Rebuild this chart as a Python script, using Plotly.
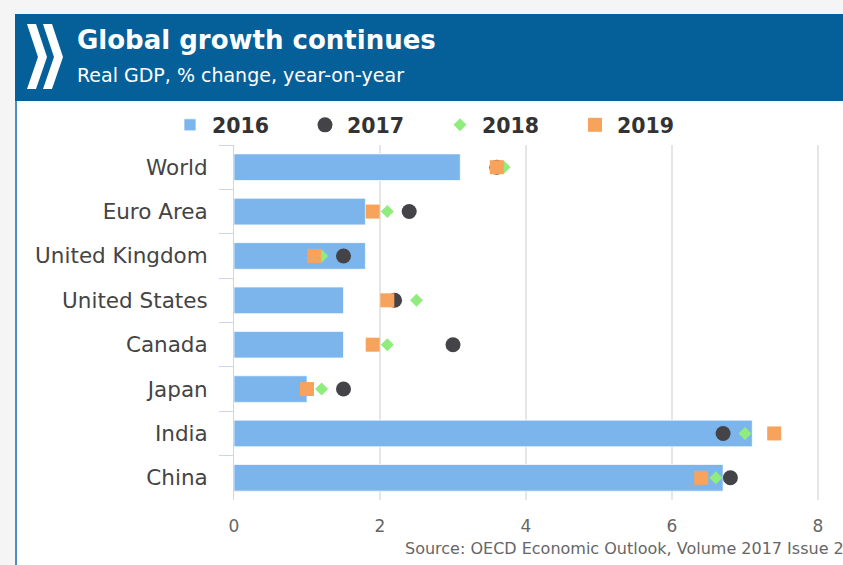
import plotly.graph_objects as go

# Real GDP growth, % change year-on-year
countries = ["World", "Euro Area", "United Kingdom", "United States",
             "Canada", "Japan", "India", "China"]
gdp_2016 = [3.1, 1.8, 1.8, 1.5, 1.5, 1.0, 7.1, 6.7]
gdp_2017 = [3.6, 2.4, 1.5, 2.2, 3.0, 1.5, 6.7, 6.8]
gdp_2018 = [3.7, 2.1, 1.2, 2.5, 2.1, 1.2, 7.0, 6.6]
gdp_2019 = [3.6, 1.9, 1.1, 2.1, 1.9, 1.0, 7.4, 6.4]
x_ticks = [0, 2, 4, 6, 8]

W, H = 843, 565
ML, MR, MT, MB = 234, 0, 145, 65
PW, PH = W - ML - MR, H - MT - MB
UNIT = 73.0  # pixels per percentage point


def px(x):
    return (x - ML) / PW


def py(y):
    return (H - MB - y) / PH


FONT = "DejaVu Sans"

fig = go.Figure()
fig.add_trace(go.Bar(
    y=countries, x=gdp_2016, orientation="h", name="2016",
    marker=dict(color="#7cb5ec", line=dict(color="rgba(255,255,255,0.7)", width=1)),
    width=0.6,
))
fig.add_trace(go.Scatter(
    y=countries, x=gdp_2017, mode="markers", name="2017",
    marker=dict(symbol="circle", size=15, color="#434348"),
))
fig.add_trace(go.Scatter(
    y=countries, x=gdp_2018, mode="markers", name="2018",
    marker=dict(symbol="diamond", size=10, color="#90ed7d"),
))
fig.add_trace(go.Scatter(
    y=countries, x=gdp_2019, mode="markers", name="2019",
    marker=dict(symbol="square", size=14, color="#f7a35c"),
))

shapes = [
    # page background strips
    dict(type="rect", xref="paper", yref="paper", x0=px(0), x1=px(W), y0=py(0), y1=py(14),
         fillcolor="#f5f5f5", line_width=0, layer="below"),
    dict(type="rect", xref="paper", yref="paper", x0=px(0), x1=px(15), y0=py(14), y1=py(H),
         fillcolor="#f5f5f5", line_width=0, layer="below"),
    # header band
    dict(type="rect", xref="paper", yref="paper", x0=px(15), x1=px(W), y0=py(14), y1=py(101),
         fillcolor="#05609a", line_width=0, layer="below"),
    # left frame line
    dict(type="rect", xref="paper", yref="paper", x0=px(15), x1=px(17), y0=py(101), y1=py(H),
         fillcolor="#4d8fc4", line_width=0, layer="below"),
]

# double chevron logo in the header
def chevron(x0):
    pts = [(x0, 24), (x0 + 9, 24), (x0 + 20, 57), (x0 + 9, 89), (x0, 89), (x0 + 11, 57)]
    return "M " + " L ".join(f"{px(a):.5f},{py(b):.5f}" for a, b in pts) + " Z"

for cx in (27, 43):
    shapes.append(dict(type="path", xref="paper", yref="paper", path=chevron(cx),
                       fillcolor="white", line_width=0))

annotations = [
    dict(text="<b>Global growth continues</b>", xref="paper", yref="paper",
         x=px(75), y=py(40), xanchor="left", yanchor="middle", showarrow=False,
         font=dict(family=FONT, size=26, color="white")),
    dict(text="Real GDP, % change, year-on-year", xref="paper", yref="paper",
         x=px(75), y=py(75), xanchor="left", yanchor="middle", showarrow=False,
         font=dict(family=FONT, size=19, color="white")),
    dict(text="Source: OECD Economic Outlook, Volume 2017 Issue 2", xref="paper", yref="paper",
         x=px(403), y=py(548), xanchor="left", yanchor="middle", showarrow=False,
         font=dict(family=FONT, size=16, color="#666666")),
]

fig.update_layout(
    width=W, height=H,
    margin=dict(l=ML, r=MR, t=MT, b=MB, pad=0),
    paper_bgcolor="white", plot_bgcolor="white",
    barmode="overlay",
    showlegend=True,
    legend=dict(orientation="h", xref="container", yref="container",
                x=168 / W, y=1 - 125 / H, xanchor="left", yanchor="middle",
                font=dict(family=FONT, size=20.5, color="#333333", weight="bold"),
                itemwidth=34, entrywidth=86, entrywidthmode="pixels", traceorder="normal",
                bgcolor="rgba(0,0,0,0)"),
    xaxis=dict(range=[0, PW / UNIT], tickvals=x_ticks, ticktext=[str(v) for v in x_ticks],
               showgrid=True, gridcolor="#e6e6e6", gridwidth=1.5, zeroline=False,
               showline=False, ticks="", ticklabelstandoff=14,
               tickfont=dict(family=FONT, size=17, color="#666666"), fixedrange=True),
    yaxis=dict(type="category", categoryorder="array", categoryarray=countries,
               range=[len(countries) - 0.5, -0.5], autorange=False,
               showline=True, linecolor="#ccd6eb", linewidth=1,
               ticks="outside", tickson="boundaries", ticklen=14, tickcolor="#ccd6eb",
               showgrid=False, ticklabelstandoff=21,
               tickfont=dict(family=FONT, size=21.5, color="#444444")),
    shapes=shapes,
    annotations=annotations,
)

fig.write_html("out.html")
